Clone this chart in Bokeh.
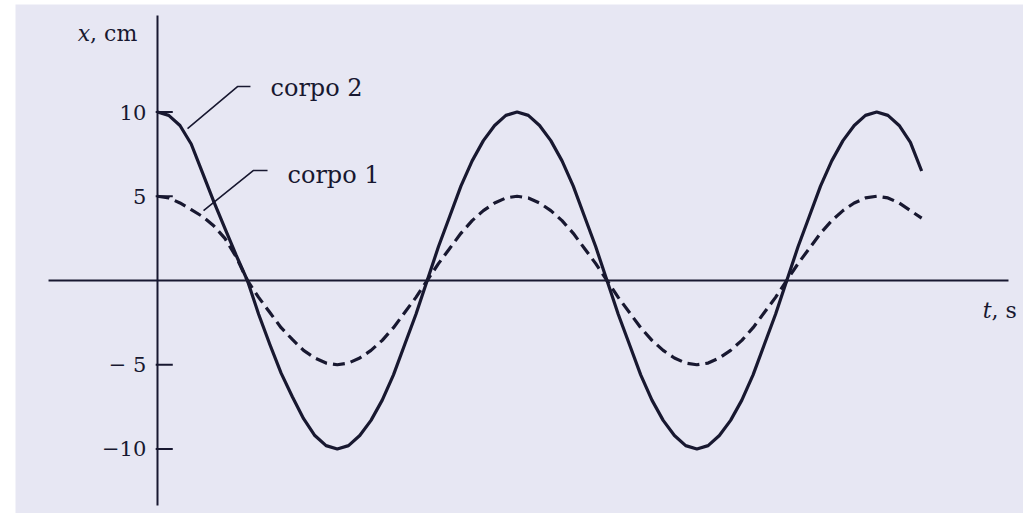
from bokeh.plotting import figure
from bokeh.embed import file_html
from bokeh.resources import INLINE
from bokeh.core.properties import value

# ---- data ----
t = [0, 0.125, 0.25, 0.375, 0.5, 0.625, 0.75, 0.875,
     1, 1.125, 1.25, 1.375, 1.5, 1.625, 1.75, 1.875,
     2, 2.125, 2.25, 2.375, 2.5, 2.625, 2.75, 2.875,
     3, 3.125, 3.25, 3.375, 3.5, 3.625, 3.75, 3.875,
     4, 4.125, 4.25, 4.375, 4.5, 4.625, 4.75, 4.875,
     5, 5.125, 5.25, 5.375, 5.5, 5.625, 5.75, 5.875,
     6, 6.125, 6.25, 6.375, 6.5, 6.625, 6.75, 6.875,
     7, 7.125, 7.25, 7.375, 7.5, 7.625, 7.75, 7.875,
     8, 8.125, 8.25, 8.375, 8.5]

corpo2 = [10, 9.8, 9.2, 8.1, 6.4, 4.7, 3.1, 1.5,
          0, -2.0, -3.8, -5.5, -6.9, -8.2, -9.2, -9.8,
          -10, -9.8, -9.2, -8.3, -7.1, -5.6, -3.8, -2.0,
          0, 2.0, 3.8, 5.6, 7.1, 8.3, 9.2, 9.8,
          10, 9.8, 9.2, 8.3, 7.1, 5.6, 3.8, 2.0,
          0, -2.0, -3.8, -5.6, -7.1, -8.3, -9.2, -9.8,
          -10, -9.8, -9.2, -8.3, -7.1, -5.6, -3.8, -2.0,
          0, 2.0, 3.8, 5.6, 7.1, 8.3, 9.2, 9.8,
          10, 9.8, 9.2, 8.2, 6.5]

corpo1 = [5.0, 4.9, 4.6, 4.2, 3.8, 3.25, 2.5, 1.4,
          0, -1.0, -1.9, -2.8, -3.5, -4.15, -4.6, -4.9,
          -5.0, -4.9, -4.6, -4.15, -3.55, -2.8, -1.9, -1.0,
          0, 1.0, 1.9, 2.8, 3.55, 4.15, 4.6, 4.9,
          5.0, 4.9, 4.6, 4.15, 3.55, 2.8, 1.9, 1.0,
          0, -1.0, -1.9, -2.8, -3.55, -4.15, -4.6, -4.9,
          -5.0, -4.9, -4.6, -4.15, -3.55, -2.8, -1.9, -1.0,
          0, 1.0, 1.9, 2.8, 3.55, 4.15, 4.6, 4.9,
          5.0, 4.9, 4.6, 4.15, 3.7]

y_ticks = [10, 5, -5, -10]
y_tick_labels = ["10", "5", "\u2212 5", "\u221210"]

series_labels = ["corpo 2", "corpo 1"]

# ---- style ----
INK = "#181830"
PAPER = "#e7e7f3"
FONT = value("DejaVu Serif")

p = figure(width=1023, height=513,
           x_range=(-1.5795, 9.633), y_range=(-13.828, 16.380),
           x_axis_type=None, y_axis_type=None,
           output_backend="svg", toolbar_location=None,
           min_border_left=15, min_border_right=0,
           min_border_top=4, min_border_bottom=0,
           background_fill_color=PAPER, border_fill_color="white",
           outline_line_color=None)

# axes drawn through the origin
p.segment(x0=[-1.212, 0], y0=[0, -13.353], x1=[9.466, 0], y1=[0, 15.73],
          line_color=INK, line_width=2)

# ticks on the vertical axis
p.segment(x0=[-0.02] * len(y_ticks), y0=y_ticks,
          x1=[0.17] * len(y_ticks), y1=y_ticks,
          line_color=INK, line_width=2)
p.text(x=[-0.125] * len(y_ticks), y=y_ticks, text=y_tick_labels,
       text_font=FONT, text_font_size="21px", text_color=INK,
       text_align="right", text_baseline="middle")

# curves
p.line(t, corpo2, line_color=INK, line_width=3.2, line_join="round")
p.line(t, corpo1, line_color=INK, line_width=3.2, line_dash="12 6",
       line_join="round")

# leader lines to the labels
p.line([1.034, 0.89, 0.334], [11.51, 11.51, 9.02],
       line_color=INK, line_width=1.6)
p.line([1.224, 1.068, 0.512], [6.53, 6.53, 4.15],
       line_color=INK, line_width=1.6)
p.text(x=[1.257, 1.446], y=[11.45, 6.25], text=series_labels,
       text_font=FONT, text_font_size="24px", text_color=INK,
       text_align="left", text_baseline="middle")

# axis titles
p.text(x=[-0.75], y=[14.66], text=["x"], text_font=FONT,
       text_font_style="italic", text_font_size="22px", text_color=INK,
       text_align="right", text_baseline="middle")
p.text(x=[-0.75], y=[14.66], text=[", cm"], text_font=FONT,
       text_font_size="22px", text_color=INK,
       text_align="left", text_baseline="middle")
p.text(x=[9.277], y=[-1.78], text=["t"], text_font=FONT,
       text_font_style="italic", text_font_size="22px", text_color=INK,
       text_align="right", text_baseline="middle")
p.text(x=[9.277], y=[-1.78], text=[", s"], text_font=FONT,
       text_font_size="22px", text_color=INK,
       text_align="left", text_baseline="middle")

open("out.html", "w").write(file_html(p, INLINE))
